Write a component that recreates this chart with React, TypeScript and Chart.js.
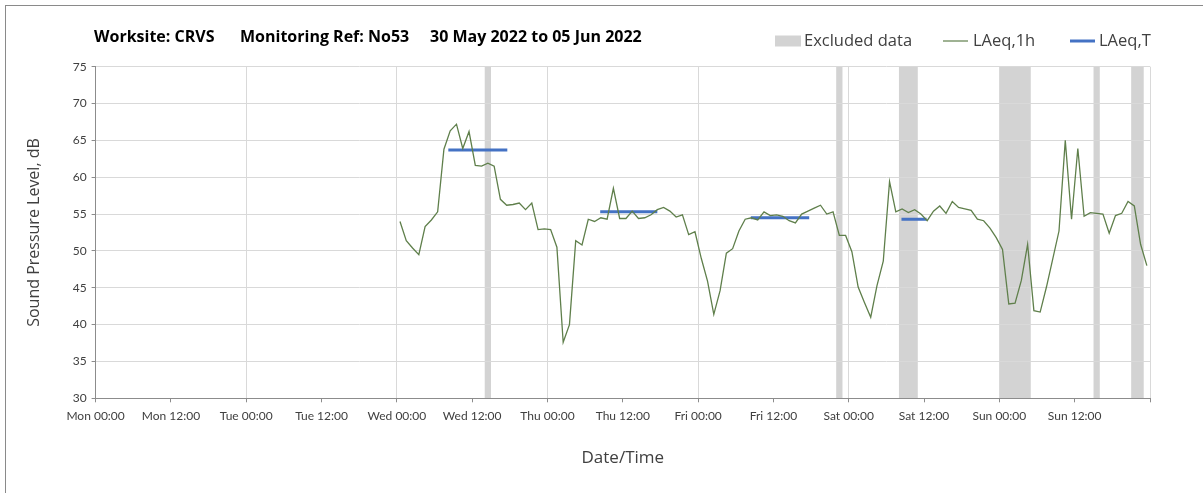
import React, { useEffect, useRef } from 'react';
import { Chart, registerables } from 'chart.js';

Chart.register(...registerables);

// ---- data ----
const titleParts = ['Worksite: CRVS', 'Monitoring Ref: No53', '30 May 2022 to 05 Jun 2022'];
const legendLabels = ['Excluded data', 'LAeq,1h', 'LAeq,T'];
const dayNames = ['Mon', 'Tue', 'Wed', 'Thu', 'Fri', 'Sat', 'Sun'];

// hours since Mon 00:00 of the first hourly value
const hourStart = 48;
const laeq1h = [
  54.0, 51.4, 50.4, 49.5, 53.3, 54.2, 55.3, 63.8, 66.3, 67.2, 63.9, 66.2,
  61.6, 61.5, 61.9, 61.5, 57.0, 56.2, 56.3, 56.5, 55.6, 56.5, 52.9, 53.0,
  52.9, 50.5, 37.6, 40.0, 51.4, 50.8, 54.3, 54.0, 54.5, 54.3, 58.5, 54.4,
  54.4, 55.4, 54.4, 54.5, 54.9, 55.6, 55.9, 55.4, 54.6, 54.9, 52.2, 52.6,
  49.0, 45.9, 41.4, 44.6, 49.7, 50.3, 52.7, 54.3, 54.5, 54.2, 55.3, 54.8,
  54.9, 54.7, 54.1, 53.8, 55.0, 55.4, 55.8, 56.2, 55.0, 55.3, 52.1, 52.1,
  49.9, 45.1, 43.0, 41.0, 45.3, 48.6, 59.4, 55.3, 55.7, 55.2, 55.6, 55.0,
  54.1, 55.4, 56.1, 55.1, 56.7, 55.9, 55.7, 55.5, 54.3, 54.1, 53.1, 51.8,
  50.2, 42.8, 42.9, 46.0, 50.9, 41.9, 41.7, 45.1, 48.9, 52.7, 65.0, 54.3,
  63.9, 54.7, 55.2, 55.1, 55.0, 52.4, 54.8, 55.1, 56.7, 56.1, 50.9, 48.0,
];

// LAeq,T periods (hours since Mon 00:00) and levels
const laeqTStart = [56.2, 80.4, 104.4, 128.4];
const laeqTEnd = [65.6, 89.5, 113.7, 132.4];
const laeqTLevel = [63.7, 55.3, 54.5, 54.3];

// excluded data periods (hours since Mon 00:00)
const excludedStart = [62, 118, 128, 144, 159, 165];
const excludedEnd = [63, 119, 131, 149, 160, 167];

const yMin = 30;
const yMax = 75;
const yStep = 5;
const xMax = 168;
const xStep = 12;

// ---- styles ----
const FONT = 'Lato, "Open Sans", sans-serif';
const FONT2 = '"Open Sans", Lato, sans-serif';
const GREEN = '#5f7f4b';
const BLUE = '#4472c4';
const BAND = '#d3d3d3';
const GRID = '#d9d9d9';
const AXIS = '#8c8c8c';
const TEXT = '#404040';

const bandsPlugin = {
  id: 'excludedBands',
  beforeDraw(chart: any) {
    const { ctx, chartArea } = chart;
    const xs = chart.scales.x;
    ctx.save();
    ctx.fillStyle = BAND;
    for (let i = 0; i < excludedStart.length; i++) {
      const x1 = xs.getPixelForValue(excludedStart[i]);
      const x2 = xs.getPixelForValue(excludedEnd[i]);
      ctx.fillRect(x1, chartArea.top, x2 - x1, chartArea.bottom - chartArea.top);
    }
    ctx.restore();
  },
};

const headerPlugin = {
  id: 'header',
  afterDraw(chart: any) {
    const { ctx } = chart;
    ctx.save();
    // frame
    ctx.strokeStyle = '#8a8a8a';
    ctx.lineWidth = 1;
    ctx.strokeRect(5.5, 5.5, 1400, 800);
    // title
    ctx.fillStyle = '#000000';
    ctx.font = `bold 16px ${FONT2}`;
    ctx.textBaseline = 'middle';
    ctx.textAlign = 'left';
    const titleX = [94, 240, 430];
    titleParts.forEach((t, i) => ctx.fillText(t, titleX[i], 37));
    // legend
    const ly = 41;
    ctx.font = `16.5px ${FONT2}`;
    ctx.fillStyle = BAND;
    ctx.fillRect(775, ly - 5.5, 26, 11);
    ctx.strokeStyle = GREEN;
    ctx.lineWidth = 1.2;
    ctx.beginPath();
    ctx.moveTo(943, ly);
    ctx.lineTo(968, ly);
    ctx.stroke();
    ctx.strokeStyle = BLUE;
    ctx.lineWidth = 3;
    ctx.beginPath();
    ctx.moveTo(1070, ly);
    ctx.lineTo(1095, ly);
    ctx.stroke();
    ctx.fillStyle = TEXT;
    const lx = [804, 973, 1099];
    legendLabels.forEach((t, i) => ctx.fillText(t, lx[i], ly));
    ctx.restore();
  },
};

export default function App() {
  const ref = useRef<HTMLCanvasElement | null>(null);
  useEffect(() => {
    if (!ref.current) return;
    const linePts = laeq1h.map((v, i) => ({ x: hourStart + i + 0.5, y: v }));
    const tPts: any[] = [];
    laeqTStart.forEach((s, i) => {
      tPts.push({ x: s, y: laeqTLevel[i] });
      tPts.push({ x: laeqTEnd[i], y: laeqTLevel[i] });
      tPts.push({ x: laeqTEnd[i] + 0.01, y: null });
    });
    const chart = new Chart(ref.current, {
      type: 'line',
      data: {
        datasets: [
          {
            label: legendLabels[1],
            data: linePts,
            borderColor: GREEN,
            borderWidth: 1.3,
            pointRadius: 0,
            tension: 0,
          },
          {
            label: legendLabels[2],
            data: tPts,
            borderColor: BLUE,
            borderWidth: 3,
            pointRadius: 0,
            spanGaps: false,
          },
        ],
      },
      plugins: [bandsPlugin, headerPlugin],
      options: {
        animation: false,
        responsive: false,
        devicePixelRatio: 1,
        parsing: false,
        layout: { padding: { left: 0, right: 53, top: 66.7, bottom: 0 } },
        plugins: { legend: { display: false }, title: { display: false }, tooltip: { enabled: false } },
        scales: {
          x: {
            type: 'linear',
            min: 0,
            max: xMax,
            afterFit: (s: any) => { s.height = 94.7; },
            border: { color: AXIS, width: 1 },
            grid: {
              color: (c: any) => (c.tick && c.tick.value % 24 === 0 ? GRID : 'rgba(0,0,0,0)'),
              tickColor: AXIS,
              tickLength: 4,
              lineWidth: 1,
            },
            ticks: {
              stepSize: xStep,
              autoSkip: false,
              maxRotation: 0,
              padding: 7,
              color: TEXT,
              font: { family: FONT, size: 12 },
              callback: (v: any) => {
                const n = Number(v);
                if (n >= xMax) return '';
                const d = dayNames[Math.floor(n / 24)];
                const h = n % 24;
                return `${d} ${String(h).padStart(2, '0')}:00`;
              },
            },
            title: {
              display: true,
              text: 'Date/Time',
              color: TEXT,
              font: { family: FONT2, size: 17 },
              padding: { top: 0, bottom: 25 },
            },
          },
          y: {
            min: yMin,
            max: yMax,
            afterFit: (s: any) => { s.width = 95.6; },
            border: { color: AXIS, width: 1 },
            grid: { color: GRID, tickColor: AXIS, tickLength: 4, lineWidth: 1 },
            ticks: {
              stepSize: yStep,
              padding: 5,
              color: TEXT,
              font: { family: FONT, size: 12 },
            },
            title: {
              display: true,
              text: 'Sound Pressure Level, dB',
              color: TEXT,
              font: { family: FONT2, size: 16 },
              padding: { top: 25, bottom: 0 },
            },
          },
        },
      },
    });
    return () => chart.destroy();
  }, []);
  return (
    <div style={{ position: 'fixed', left: 0, top: 0, width: 1203, height: 493, background: '#fff' }}>
      <canvas ref={ref} width={1203} height={493} style={{ display: 'block' }} />
    </div>
  );
}
